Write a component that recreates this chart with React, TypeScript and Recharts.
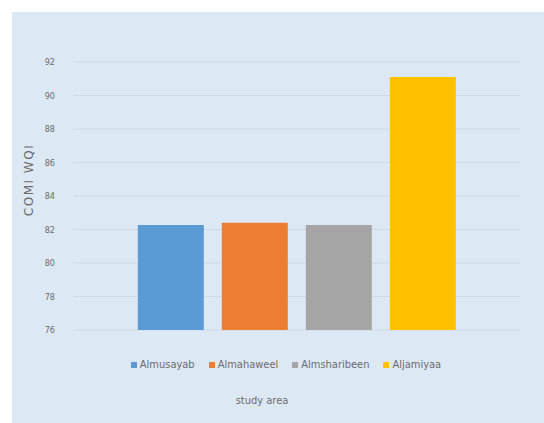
import React from "react";
import { BarChart, Bar, XAxis, YAxis, CartesianGrid, Legend } from "recharts";

const categories = ["study area"];
const seriesNames = ["Almusayab", "Almahaweel", "Almsharibeen", "Aljamiyaa"];
const seriesValues = [82.27, 82.4, 82.27, 91.1];
const seriesColors = ["#5b9bd5", "#ed7d31", "#a5a5a5", "#ffc000"];
const yTicks = [76, 78, 80, 82, 84, 86, 88, 90, 92];

const data = categories.map((c) => {
  const row: Record<string, string | number> = { name: c };
  seriesNames.forEach((s, i) => {
    row[s] = seriesValues[i];
  });
  return row;
});

const FONT = "'Liberation Sans Narrow', 'DejaVu Sans Condensed', 'Liberation Sans', sans-serif";

const LegendContent = (props: any) => {
  const payload = [...(props.payload || [])].sort(
    (a: any, b: any) => seriesNames.indexOf(a.value) - seriesNames.indexOf(b.value)
  );
  return (
    <div style={{ display: "flex", justifyContent: "center", gap: 14, fontFamily: FONT, fontSize: 11, color: "#6b6b6b" }}>
      {payload.map((p: any) => (
        <div key={p.value} style={{ display: "flex", alignItems: "center" }}>
          <span style={{ display: "inline-block", width: 6, height: 6, background: p.color, marginRight: 3 }} />
          <span>{p.value}</span>
        </div>
      ))}
    </div>
  );
};

export default function App() {
  return (
    <div style={{ position: "absolute", left: 0, top: 0, width: 544, height: 423, background: "#ffffff" }}>
      <div style={{ position: "absolute", left: 12, top: 12, width: 532, height: 411, background: "#dde8f5" }} />
      <div style={{ position: "absolute", left: 0, top: 0 }}>
        <BarChart
          width={544}
          height={423}
          data={data}
          margin={{ top: 62, right: 24, bottom: 50, left: 33 }}
          barCategoryGap="14.5%"
          barGap={18}
        >
          <CartesianGrid horizontal vertical={false} stroke="#cfd9e7" />
          <XAxis
            dataKey="name"
            tick={false}
            axisLine={false}
            tickLine={false}
            label={(lp: any) => (
              <text x={262} y={404} textAnchor="middle" fontFamily={FONT} fontSize={11} fill="#6b6b6b">
                study area
              </text>
            )}
          />
          <YAxis
            width={40}
            domain={[76, 92]}
            ticks={yTicks}
            allowDataOverflow
            axisLine={false}
            tickLine={false}
            tickSize={0}
            tickMargin={18}
            tick={{ fontFamily: FONT, fontSize: 9, fill: "#6b6b6b" }}
            label={(lp: any) => (
              <text
                x={29}
                y={180}
                transform="rotate(-90 29 180)"
                textAnchor="middle"
                dominantBaseline="central"
                fontFamily="'DejaVu Sans', sans-serif"
                fontSize={12}
                letterSpacing={1.5}
                fill="#6b6b6b"
              >
                COMI WQI
              </text>
            )}
          />
          <Legend content={<LegendContent />} wrapperStyle={{ top: 358, left: 0, width: 572 }} />
          {seriesNames.map((s, i) => (
            <Bar key={s} dataKey={s} fill={seriesColors[i]} isAnimationActive={false} />
          ))}
        </BarChart>
      </div>
    </div>
  );
}
